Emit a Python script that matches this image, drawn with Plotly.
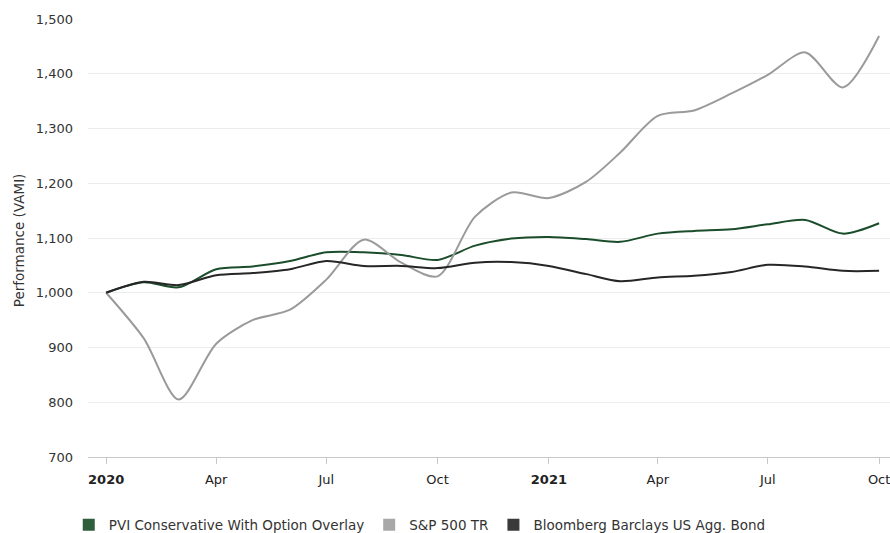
import plotly.graph_objects as go

dates = ["2020-01-01", "2020-02-01", "2020-03-01", "2020-04-01", "2020-05-01", "2020-06-01",
         "2020-07-01", "2020-08-01", "2020-09-01", "2020-10-01", "2020-11-01", "2020-12-01",
         "2021-01-01", "2021-02-01", "2021-03-01", "2021-04-01", "2021-05-01", "2021-06-01",
         "2021-07-01", "2021-08-01", "2021-09-01", "2021-10-01"]

pvi = [1000, 1019, 1010, 1043, 1048, 1058, 1074, 1074, 1069, 1060, 1086, 1099,
       1102, 1098, 1093, 1108, 1113, 1116, 1125, 1133, 1108, 1127]
sp500 = [1000, 917, 805, 907, 950, 969, 1024, 1097, 1055, 1030, 1139, 1183,
         1173, 1203, 1256, 1323, 1333, 1364, 1398, 1439, 1375, 1469]
bond = [1000, 1020, 1014, 1032, 1036, 1043, 1058, 1049, 1049, 1045, 1055, 1056,
        1049, 1034, 1021, 1028, 1031, 1038, 1051, 1048, 1040, 1040]

names = ["PVI Conservative With Option Overlay", "S&P 500 TR", "Bloomberg Barclays US Agg. Bond"]
series = [pvi, sp500, bond]
line_colors = ["#1b4d2b", "#9a9a9a", "#262626"]
legend_colors = ["#2f5e3b", "#a8a8a8", "#3a3a3a"]

tick_vals = ["2020-01-01", "2020-04-01", "2020-07-01", "2020-10-01",
             "2021-01-01", "2021-04-01", "2021-07-01", "2021-10-01"]
tick_text = ["<b>2020</b>", "Apr", "Jul", "Oct", "<b>2021</b>", "Apr", "Jul", "Oct"]

FONT = "DejaVu Sans, Verdana, sans-serif"

fig = go.Figure()
for name, vals, lc in zip(names, series, line_colors):
    fig.add_trace(go.Scatter(x=dates, y=vals, mode="lines", name=name,
                             line=dict(color=lc, width=2, shape="spline", smoothing=0.8),
                             showlegend=False, hoverinfo="x+y+name"))
for name, c in zip(names, legend_colors):
    fig.add_trace(go.Scatter(x=[None], y=[None], mode="markers", name=name,
                             marker=dict(symbol="square", size=13, color=c,
                                         line=dict(width=0)),
                             showlegend=True))

fig.add_annotation(text="Performance (VAMI)", xref="paper", yref="paper",
                   x=-0.086, y=0.495, xanchor="center", yanchor="middle",
                   textangle=-90, showarrow=False,
                   font=dict(family=FONT, size=13.5, color="#333333"))

fig.update_layout(
    width=890, height=533,
    margin=dict(l=88, r=0, t=19, b=76, autoexpand=False),
    paper_bgcolor="white", plot_bgcolor="white",
    font=dict(family=FONT, size=13, color="#333333"),
    showlegend=True,
    legend=dict(orientation="h", x=-0.024, xanchor="left", y=-0.12, yanchor="top",
                font=dict(family=FONT, size=13.5, color="#333333"),
                itemsizing="constant", tracegroupgap=0, itemwidth=30),
    xaxis=dict(
        type="date",
        range=["2019-12-17", "2021-10-10"],
        tickvals=tick_vals, ticktext=tick_text,
        showgrid=False, zeroline=False,
        showline=True, linecolor="#c8c8c8", linewidth=1,
        ticks="outside", ticklen=6, tickcolor="#c8c8c8",
        ticklabelstandoff=4, ticklabeloverflow="allow",
        tickfont=dict(family=FONT, size=13, color="#222222"),
        automargin=False,
    ),
    yaxis=dict(
        range=[700, 1500], dtick=100, tickformat=",",
        showgrid=True, gridcolor="#ececec", gridwidth=1,
        zeroline=False, showline=False,
        ticks="", ticklabelstandoff=14,
        tickfont=dict(family=FONT, size=13, color="#333333"),
        automargin=False,
    ),
)

fig.write_html("out.html", config={"displayModeBar": False},
               post_script="document.body.style.margin='0';document.body.style.overflow='hidden';")
